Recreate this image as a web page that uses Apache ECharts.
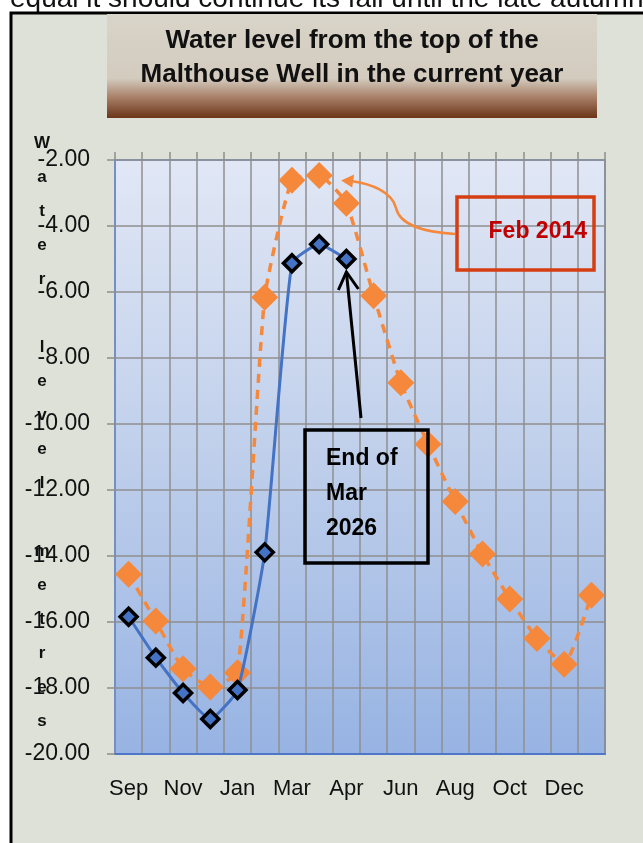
<!DOCTYPE html>
<html><head><meta charset="utf-8">
<script src="https://cdn.jsdelivr.net/npm/echarts@6/dist/echarts.min.js"></script>
<style>html,body{margin:0;padding:0;background:#fff;overflow:hidden}#c{width:643px;height:843px}</style>
</head><body><div id="c"></div>
<script>
// ---- data ----
const months = ['Sep','Oct','Nov','Dec','Jan','Feb','Mar','Mar','Apr','May','Jun','Jul','Aug','Sep','Oct','Nov','Dec','Jan'];
const currentYear = [-15.84,-17.08,-18.15,-18.94,-18.06,-13.89,-5.13,-4.55,-5.00];
const feb2014 = [-14.55,-15.97,-17.42,-17.97,-17.54,-6.16,-2.61,-2.47,-3.31,-6.11,-8.75,-10.61,-12.35,-13.94,-15.30,-16.50,-17.28,-15.19];
const yMin = -20, yMax = -2, yStep = 2;
const titleLines = ['Water level from the top of the', 'Malthouse Well in the current year'];
const yAxisName = 'Water level metres'.split(' ');
const febLabel = 'Feb 2014';
const endLabel = ['End of', 'Mar', '2026'];
const topText = 'equal it should continue its fall until the late autumn';

const chart = echarts.init(document.getElementById('c'), null, {renderer: 'canvas'});
const FONT = '"Liberation Sans", Arial, sans-serif';
const BLUE = '#4472c4', ORANGE = '#f5883b', GRID = '#8f8f8f';

chart.setOption({
  backgroundColor: '#ffffff',
  animation: false,
  grid: {
    left: 115, top: 160, width: 490, height: 594,
    show: true,
    borderColor: '#5b80cc', borderWidth: 1.5,
    backgroundColor: new echarts.graphic.LinearGradient(0, 0, 0, 1, [
      {offset: 0, color: '#e1e7f5'},
      {offset: 0.5, color: '#bfcfeb'},
      {offset: 1, color: '#97b3e3'}
    ])
  },
  xAxis: [{
    type: 'category', data: months, position: 'bottom',
    boundaryGap: true,
    axisLine: {show: true, lineStyle: {color: '#4f76c8', width: 2}},
    axisTick: {show: false},
    axisLabel: {interval: 1, color: '#111', fontFamily: FONT, fontSize: 22, margin: 24},
    splitLine: {show: false}
  }, {
    type: 'category', data: months, position: 'top',
    boundaryGap: true,
    axisLine: {show: false},
    axisTick: {show: true, interval: 0, length: 8, lineStyle: {color: GRID, width: 1.5}},
    axisLabel: {show: false},
    splitLine: {show: true, interval: 0, lineStyle: {color: GRID, width: 1.5}}
  }],
  yAxis: {
    type: 'value', min: yMin, max: yMax, interval: yStep,
    axisLine: {show: true, lineStyle: {color: '#6f8fcf', width: 1.5}},
    axisTick: {show: true, length: 8, lineStyle: {color: GRID, width: 1.5}},
    axisLabel: {color: '#111', fontFamily: FONT, fontSize: 23, margin: 25,
      formatter: v => v.toFixed(2)},
    splitLine: {show: true, lineStyle: {color: GRID, width: 1.5}}
  },
  series: [{
    name: 'Current year', type: 'line', data: currentYear,
    smooth: 0.15, showAllSymbol: true,
    symbol: 'diamond', symbolSize: 17,
    lineStyle: {color: BLUE, width: 3},
    itemStyle: {color: BLUE, borderColor: '#000', borderWidth: 3.5},
    z: 3
  }, {
    name: 'Feb 2014', type: 'line', data: feb2014,
    smooth: 0.15, showAllSymbol: true,
    symbol: 'diamond', symbolSize: 27,
    lineStyle: {color: ORANGE, width: 3.5, type: [9, 7]},
    itemStyle: {color: ORANGE, borderWidth: 0},
    z: 2
  }]
});

const pOr = chart.convertToPixel({seriesIndex: 1}, [7, feb2014[7]]);
const pBl = chart.convertToPixel({seriesIndex: 0}, [8, currentYear[8]]);
const fTip = [pOr[0] + 22, pOr[1] + 5];
const bTip = [pBl[0], pBl[1] + 13];

chart.setOption({
  graphic: [
    {type: 'text', z: -20, x: 10, y: 13,
     style: {text: topText, font: '28px ' + FONT, fill: '#111', textVerticalAlign: 'bottom'}},
    {type: 'rect', z: -10, shape: {x: 11, y: 13, width: 700, height: 900},
     style: {fill: '#dde1d7', stroke: '#000', lineWidth: 3}},
    {type: 'rect', z: 10, shape: {x: 107, y: 14, width: 490, height: 104},
     style: {fill: new echarts.graphic.LinearGradient(0, 0, 0, 1, [
       {offset: 0, color: '#d9d4c9'},
       {offset: 0.62, color: '#d3cbbe'},
       {offset: 0.8, color: '#a98068'},
       {offset: 1, color: '#6b3518'}
     ])}},
    {type: 'text', z: 11, x: 352, y: 41,
     style: {text: titleLines[0], font: 'bold 26px ' + FONT, fill: '#111', textAlign: 'center', textVerticalAlign: 'middle'}},
    {type: 'text', z: 11, x: 352, y: 75,
     style: {text: titleLines[1], font: 'bold 26px ' + FONT, fill: '#111', textAlign: 'center', textVerticalAlign: 'middle'}},
    {type: 'text', z: 11, x: 42, y: 432,
     style: {text: yAxisName.map(w => w.split('').join('\n')).join('\n\n'),
       font: 'bold 17px ' + FONT, fill: '#111', textAlign: 'center', textVerticalAlign: 'middle', lineHeight: 34}},
    // Feb 2014 callout
    {type: 'rect', z: 20, shape: {x: 457, y: 197, width: 137, height: 73},
     style: {fill: 'transparent', stroke: '#d53d12', lineWidth: 3.5}},
    {type: 'text', z: 21, x: 587, y: 232,
     style: {text: febLabel, font: 'bold 23px ' + FONT, fill: '#c00000', textAlign: 'right', textVerticalAlign: 'middle'}},
    {type: 'bezierCurve', z: 20,
     shape: {x1: 455, y1: 234, cpx1: 425, cpy1: 232, cpx2: 400, cpy2: 226, x2: 396, y2: 208},
     style: {fill: 'none', stroke: ORANGE, lineWidth: 2.5}},
    {type: 'bezierCurve', z: 20,
     shape: {x1: 396, y1: 208, cpx1: 392, cpy1: 192, cpx2: 372, cpy2: 184, x2: fTip[0] + 10, y2: fTip[1] + 0.5},
     style: {fill: 'none', stroke: ORANGE, lineWidth: 2.5}},
    {type: 'polygon', z: 20,
     shape: {points: [[fTip[0], fTip[1]], [fTip[0] + 13, fTip[1] - 6], [fTip[0] + 11, fTip[1] + 7]]},
     style: {fill: ORANGE}},
    // End of Mar 2026 callout
    {type: 'rect', z: 20, shape: {x: 305, y: 430, width: 123, height: 133},
     style: {fill: 'transparent', stroke: '#000', lineWidth: 3.5}},
    {type: 'text', z: 21, x: 326, y: 441,
     style: {text: endLabel.join('\n'), font: 'bold 23px ' + FONT, fill: '#000', textAlign: 'left', textVerticalAlign: 'top', lineHeight: 35}},
    {type: 'line', z: 20, shape: {x1: 361, y1: 418, x2: bTip[0], y2: bTip[1]},
     style: {stroke: '#000', lineWidth: 3}},
    {type: 'polyline', z: 20,
     shape: {points: [[bTip[0] - 8, bTip[1] + 18], [bTip[0], bTip[1]], [bTip[0] + 12, bTip[1] + 17]]},
     style: {stroke: '#000', lineWidth: 3, fill: 'none'}}
  ]
});
</script></body></html>
